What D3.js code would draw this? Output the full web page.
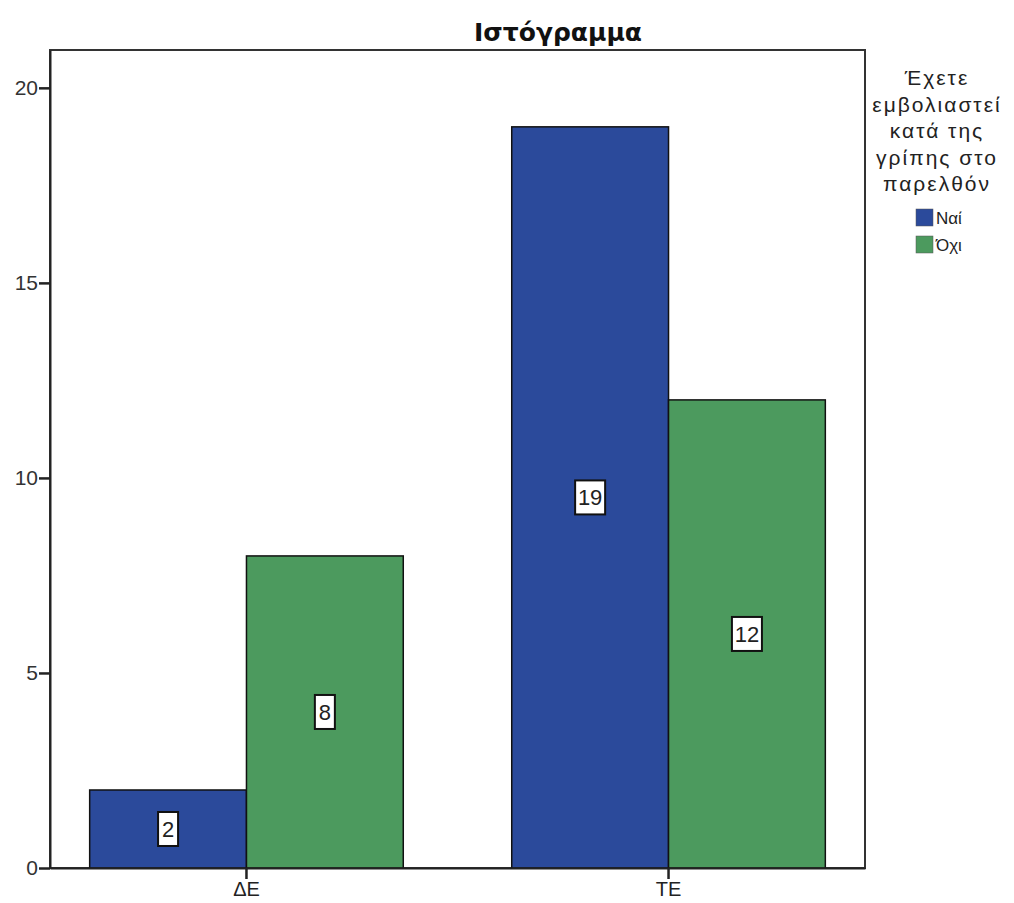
<!DOCTYPE html>
<html><head><meta charset="utf-8">
<script src="https://cdn.jsdelivr.net/npm/d3@7"></script>
<style>body{margin:0;background:#fff;}svg{display:block;font-family:"Liberation Sans",Arial,sans-serif;}</style>
</head><body>
<svg id="c" width="1014" height="903"></svg>
<script>
const categories = ["ΔΕ", "ΤΕ"];
const seriesNames = ["Ναί", "Όχι"];
const naiValues = [2, 19];
const oxiValues = [8, 12];
const yTicks = [0, 5, 10, 15, 20];
const title = "Ιστόγραμμα";
const legendTitle = ["Έχετε", "εμβολιαστεί", "κατά της", "γρίπης στο", "παρελθόν"];
const colors = ["#2b4a9b", "#4c9a5e"];

const data = categories.map((c, i) => ({cat: c, values: [naiValues[i], oxiValues[i]]}));
const svg = d3.select("#c");
const L = 50, R = 865, T = 50, B = 868;

const y = d3.scaleLinear().domain([0, 20.97]).range([B, T]);
const x0 = d3.scaleBand().domain(categories).range([L, R]).paddingInner(0.257).paddingOuter(0.094);
const x1 = d3.scaleBand().domain(seriesNames).range([0, x0.bandwidth()]);

// frame
svg.append("rect").attr("x", L).attr("y", T).attr("width", R - L).attr("height", B - T)
  .attr("fill", "#fff").attr("stroke", "#333").attr("stroke-width", 2);

// bars
const g = svg.append("g");
data.forEach(d => {
  d.values.forEach((v, j) => {
    const bx = x0(d.cat) + x1(seriesNames[j]);
    const bw = x1.bandwidth();
    g.append("rect").attr("x", bx).attr("y", y(v)).attr("width", bw).attr("height", y(0) - y(v))
      .attr("fill", colors[j]).attr("stroke", "#111").attr("stroke-width", 1.5);
    const cx = bx + bw / 2, cy = (y(v) + y(0)) / 2;
    const t = String(v);
    const w = t.length > 1 ? 30 : 20;
    g.append("rect").attr("x", cx - w / 2).attr("y", cy - 17).attr("width", w).attr("height", 34)
      .attr("fill", "#fff").attr("stroke", "#111").attr("stroke-width", 2);
    g.append("text").attr("x", cx).attr("y", cy + 8).attr("text-anchor", "middle")
      .attr("font-size", 22).attr("fill", "#222").text(t);
  });
});

// y axis
const yAxis = d3.axisLeft(y).tickValues(yTicks).tickSize(11).tickSizeOuter(0).tickPadding(1);
const ya = svg.append("g").attr("transform", `translate(${L},0)`).call(yAxis);
ya.select(".domain").attr("stroke", "#222").attr("stroke-width", 2);
ya.selectAll(".tick line").attr("stroke", "#222").attr("stroke-width", 2.5);
ya.selectAll(".tick text").attr("font-size", 21).attr("fill", "#333").attr("font-family", "Liberation Sans, Arial, sans-serif");

// x axis
const xAxis = d3.axisBottom(x0).tickSize(11).tickPadding(3).tickSizeOuter(0);
const xa = svg.append("g").attr("transform", `translate(0,${B})`).call(xAxis);
xa.select(".domain").attr("stroke", "#222").attr("stroke-width", 2);
xa.selectAll(".tick line").attr("stroke", "#222").attr("stroke-width", 2.5);
xa.selectAll(".tick text").attr("font-size", 20).attr("fill", "#222").attr("font-family", "Liberation Sans, Arial, sans-serif");

// title
svg.append("text").attr("x", 558).attr("y", 41).attr("text-anchor", "middle")
  .attr("font-size", 25).attr("font-weight", "bold").attr("fill", "#111")
  .attr("font-family", "DejaVu Sans, sans-serif").text(title);

// legend
const lx = 937;
legendTitle.forEach((s, i) => {
  svg.append("text").attr("x", lx).attr("y", 85 + i * 26.5).attr("text-anchor", "middle")
    .attr("font-size", 21).attr("letter-spacing", 2).attr("fill", "#222").text(s);
});
seriesNames.forEach((s, i) => {
  svg.append("rect").attr("x", 916).attr("y", 209 + i * 27).attr("width", 17).attr("height", 17)
    .attr("fill", colors[i]).attr("stroke", "#555").attr("stroke-width", 0.5);
  svg.append("text").attr("x", 936).attr("y", 224 + i * 27).attr("font-size", 17).attr("fill", "#222").text(s);
});
</script>
</body></html>
